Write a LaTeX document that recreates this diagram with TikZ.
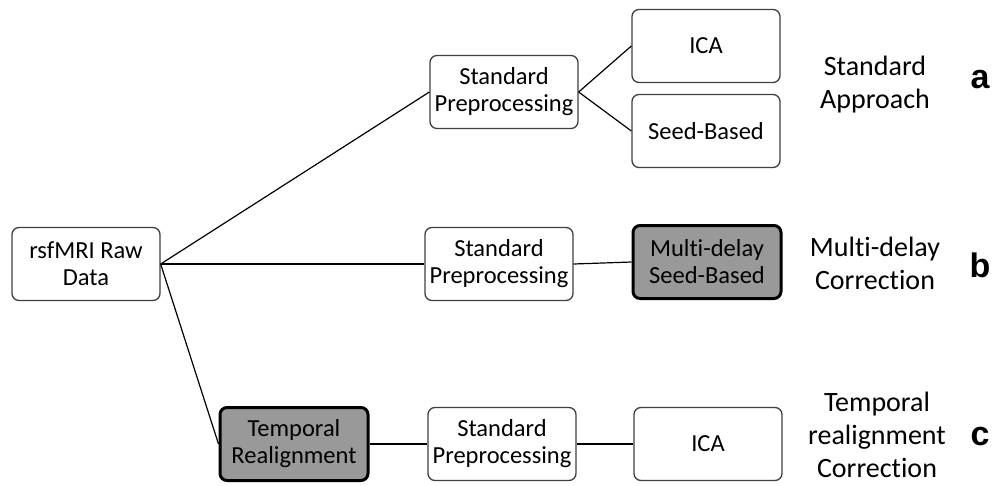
\documentclass[tikz,border=0pt]{standalone}
\usepackage{fontspec}
\setmainfont[Ligatures=NoCommon]{Carlito}
\newfontfamily\tagfont{Liberation Sans}
\usepackage{tikz}

\tikzset{
  stage/.style={draw=black!75, line width=1.3pt, rounded corners=7pt, fill=white,
    minimum width=148pt, minimum height=73pt, inner sep=2pt, align=center,
    font=\fontsize{24.5}{27}\selectfont},
  fixstage/.style={stage, draw=black, line width=3pt, fill=black!40},
  route/.style={align=center, font=\fontsize{28}{33}\selectfont},
  tag/.style={font=\tagfont\bfseries\fontsize{34}{34}\selectfont},
}

\begin{document}
\begin{tikzpicture}[x=1pt, y=-1pt, line width=1.2pt]
        \useasboundingbox (0,0) rectangle (994,485);

        \node[stage] (raw) at (86,264) {rsfMRI Raw\\Data};

        % a: standard approach
        \node[stage] (preA) at (504,92) {Standard\\Preprocessing};
        \node[stage] (icaA) at (706,46) {ICA};
        \node[stage] (seedA) at (706,131) {Seed-Based};
        \node[route] (labA) at (875,85) {Standard\\Approach};
        \node[tag] (tagA) at (980,80) {a};

        % b: multi-delay correction
        \node[stage] (preB) at (499,264) {Standard\\Preprocessing};
        \node[fixstage] (delayB) at (707,262) {Multi-delay\\Seed-Based};
        \node[route] (labB) at (875,263) {Multi-delay\\Correction};
        \node[tag] (tagB) at (980,265) {b};

        % c: temporal realignment
        \node[fixstage] (realC) at (294,444) {Temporal\\Realignment};
        \node[stage] (preC) at (502,444) {Standard\\Preprocessing};
        \node[stage] (icaC) at (708,444) {ICA};
        \node[route] (labC) at (877,435) {Temporal\\realignment\\Correction};
        \node[tag] (tagC) at (980,437) {c};

        \draw (raw.east) -- (preA.west);
        \draw (raw.east) -- (preB.west);
        \draw (raw.east) -- (realC.west);
        \draw (preA.east) -- (icaA.west);
        \draw (preA.east) -- (seedA.west);
        \draw (preB.east) -- (delayB.west);
        \draw (realC.east) -- (preC.west);
        \draw (preC.east) -- (icaC.west);
    \end{tikzpicture}
\end{document}
